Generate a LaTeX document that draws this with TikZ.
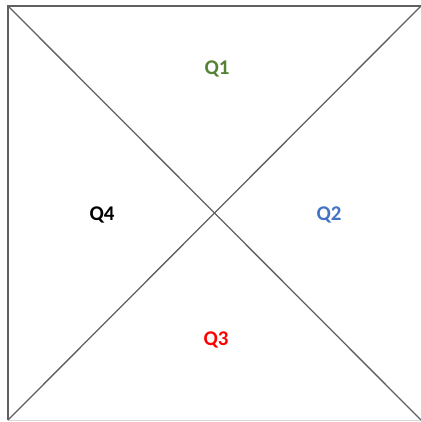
\documentclass[tikz,border=0pt]{standalone}
\usepackage{fontspec}
\setmainfont{Carlito}
\definecolor{qgreen}{HTML}{548235}
\definecolor{qblue}{HTML}{4472C4}
\definecolor{qred}{HTML}{FF0000}
\definecolor{edge}{HTML}{606060}
\begin{document}
\begin{tikzpicture}[x=1bp,y=-1bp,
  ln/.style={draw=edge,line width=1.3bp},
  lab/.style={font=\bfseries\fontsize{21}{25}\selectfont,inner sep=0pt}]
\useasboundingbox (0,0) rectangle (421,422);
\coordinate (tl) at (8,6);
\coordinate (tr) at (421,6);
\coordinate (bl) at (8,420);
\coordinate (br) at (421,420);
\draw[ln] (bl) -- (tl) -- (tr);
\draw[draw=edge!25,line width=0.8bp] (bl) -- (br);
\draw[ln] (tl) -- (br);
\draw[ln] (bl) -- (tr);
\node[lab,text=qgreen] (q1) at (217,69) {Q1};
\node[lab,text=qblue] (q2) at (329,215) {Q2};
\node[lab,text=qred] (q3) at (216,340) {Q3};
\node[lab,text=black] (q4) at (102,215) {Q4};
\end{tikzpicture}
\end{document}
